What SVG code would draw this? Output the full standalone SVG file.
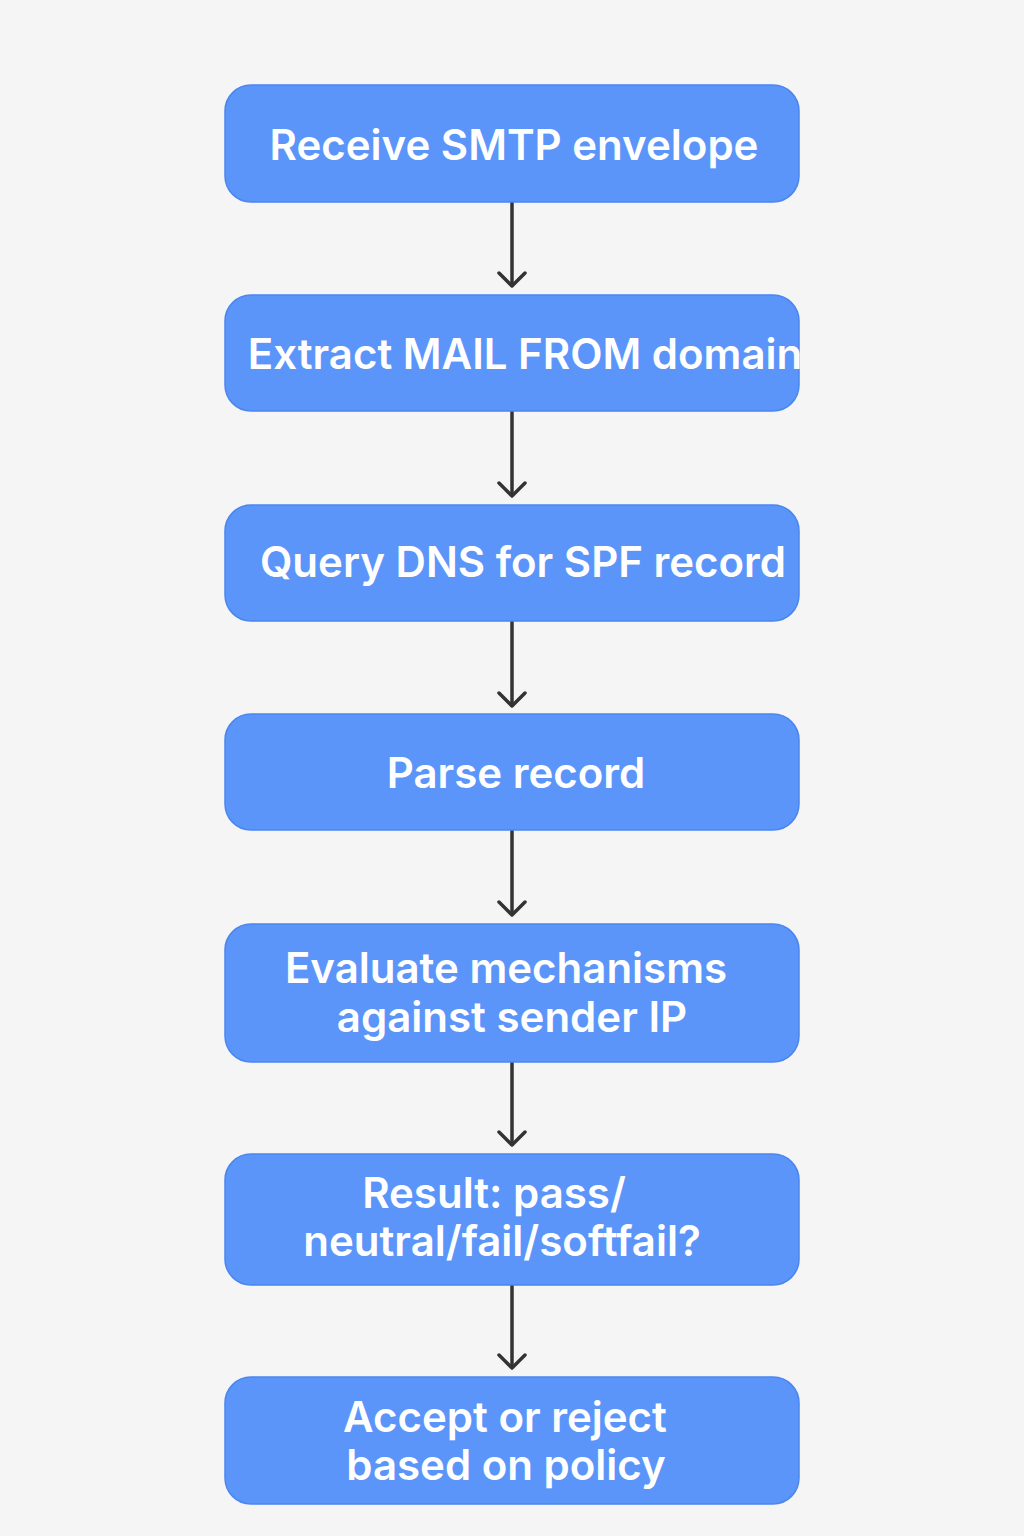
<svg xmlns="http://www.w3.org/2000/svg" width="1024" height="1536" viewBox="0 0 1024 1536">
<defs>
<style>
.box{fill:#5b95f9;stroke:#4a86f0;stroke-width:1.5}
.t{font-family:Inter,"Noto Sans","Liberation Sans",sans-serif;font-weight:600;font-size:42px;fill:#ffffff;text-anchor:middle}
.c{stroke:#333333;stroke-width:3.5;fill:none}
.h{stroke:#333333;stroke-width:3.5;fill:none;stroke-linecap:round;stroke-linejoin:round}
</style>
</defs>
<rect x="0" y="0" width="1024" height="1536" fill="#f5f5f5"/>
<g id="connectors">
<line class="c" x1="512" y1="202" x2="512" y2="286"/><polyline class="h" points="499,273 512,286 525,273"/>
<line class="c" x1="512" y1="411" x2="512" y2="496"/><polyline class="h" points="499,483 512,496 525,483"/>
<line class="c" x1="512" y1="621" x2="512" y2="706"/><polyline class="h" points="499,693 512,706 525,693"/>
<line class="c" x1="512" y1="830" x2="512" y2="915"/><polyline class="h" points="499,902 512,915 525,902"/>
<line class="c" x1="512" y1="1062" x2="512" y2="1145"/><polyline class="h" points="499,1132 512,1145 525,1132"/>
<line class="c" x1="512" y1="1285" x2="512" y2="1368"/><polyline class="h" points="499,1355 512,1368 525,1355"/>
</g>
<g id="n1"><rect class="box" x="225" y="85" width="574" height="117" rx="26"/><text class="t" x="514" y="160">Receive SMTP envelope</text></g>
<g id="n2"><rect class="box" x="225" y="295" width="574" height="116" rx="26"/><text class="t" x="525" y="369">Extract MAIL FROM domain</text></g>
<g id="n3"><rect class="box" x="225" y="505" width="574" height="116" rx="26"/><text class="t" x="523" y="577">Query DNS for SPF record</text></g>
<g id="n4"><rect class="box" x="225" y="714" width="574" height="116" rx="26"/><text class="t" x="516" y="788">Parse record</text></g>
<g id="n5"><rect class="box" x="225" y="924" width="574" height="138" rx="26"/><text class="t" x="506" y="983">Evaluate mechanisms</text><text class="t" x="512" y="1032">against sender IP</text></g>
<g id="n6"><rect class="box" x="225" y="1154" width="574" height="131" rx="26"/><text class="t" x="494" y="1208">Result: pass/</text><text class="t" x="502" y="1256">neutral/fail/softfail?</text></g>
<g id="n7"><rect class="box" x="225" y="1377" width="574" height="127" rx="26"/><text class="t" x="505" y="1432">Accept or reject</text><text class="t" x="506" y="1480">based on policy</text></g>
</svg>
